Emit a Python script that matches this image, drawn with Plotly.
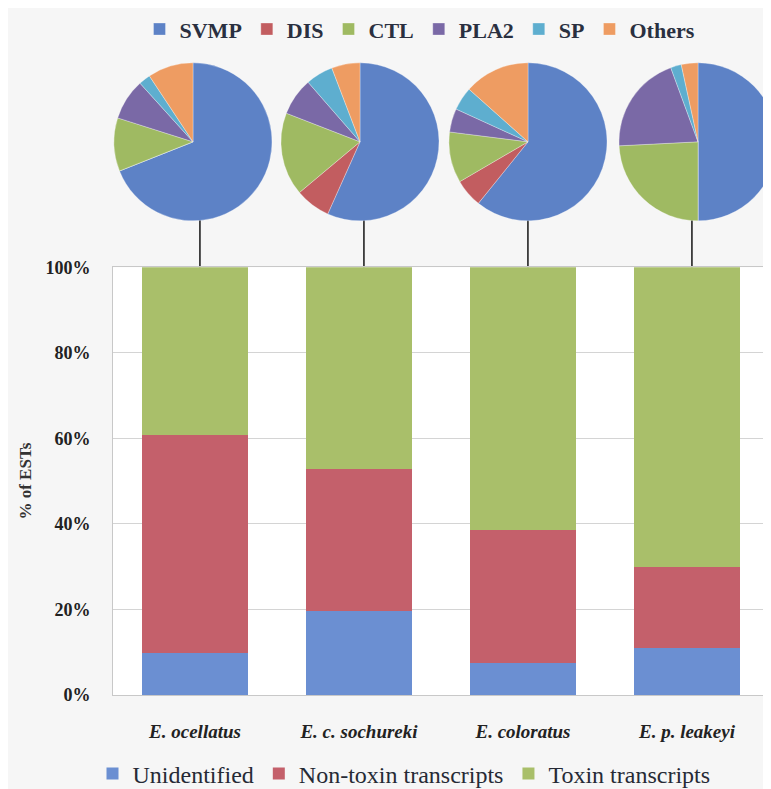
import plotly.graph_objects as go

# ---------------- data ----------------
species = ["E. ocellatus", "E. c. sochureki", "E. coloratus", "E. p. leakeyi"]
species_labels = ["<b><i>E. ocellatus</i></b>", "<b><i>E. c. sochureki</i></b>",
                  "<b><i>E. coloratus</i></b>", "<b><i>E. p. leakeyi</i></b>"]

unidentified = [9.9, 19.6, 7.4, 10.9]
non_toxin = [50.8, 33.3, 31.2, 19.1]
toxin = [39.3, 47.1, 61.4, 70.0]

toxin_families = ["SVMP", "DIS", "CTL", "PLA2", "SP", "Others"]
pie_ocellatus = [69.0, 0.0, 10.9, 8.4, 2.4, 9.3]
pie_sochureki = [56.7, 7.2, 17.0, 7.7, 5.6, 5.8]
pie_coloratus = [60.8, 5.8, 10.4, 4.8, 4.8, 13.4]
pie_leakeyi = [50.0, 0.0, 24.2, 20.2, 2.2, 3.4]
pie_values = [pie_ocellatus, pie_sochureki, pie_coloratus, pie_leakeyi]

y_ticks = [0, 20, 40, 60, 80, 100]
y_ticktext = ["<b>%d%%</b>" % v for v in y_ticks]

# ---------------- styles ----------------
pie_colors = ["#5d82c6", "#c25d60", "#9fba62", "#7a69a6", "#5eaecf", "#ee9c62"]
bar_colors = {"Unidentified": "#6b8fd2", "Non-toxin transcripts": "#c4606b",
              "Toxin transcripts": "#a9bf6a"}
serif = "Liberation Serif, Times New Roman, serif"

# page offset of the figure inside the html body (default body margin)
OFF = 8
W, H = 771, 789
ML, MR, MT, MB = 113 - OFF, 0, 40 - OFF, H - (695 - OFF)
pw, ph = W - ML - MR, H - MT - MB


def fx(px):
    return min(1.0, max(0.0, (px - OFF - ML) / pw))


def fy(py):
    return (H - MB - (py - OFF)) / ph


fig = go.Figure()

for name, vals in [("Unidentified", unidentified),
                   ("Non-toxin transcripts", non_toxin),
                   ("Toxin transcripts", toxin)]:
    fig.add_trace(go.Bar(
        x=species, y=vals, name=name,
        marker=dict(color=bar_colors[name], line=dict(width=0)),
        legend="legend2", hoverinfo="name+y"))

pie_centers = [193, 360, 528, 698]
R = 80
for cx, vals, sp in zip(pie_centers, pie_values, species):
    fig.add_trace(go.Pie(
        labels=toxin_families, values=vals, name=sp,
        sort=False, direction="clockwise", rotation=0,
        marker=dict(colors=pie_colors, line=dict(color="rgba(255,255,255,0.5)", width=0.6)),
        textinfo="none", hoverinfo="label+percent",
        domain=dict(x=[fx(cx - R), fx(cx + R)], y=[fy(215), fy(55)]),
        legend="legend"))

plot_top = fy(262)
for i in range(len(species)):
    fig.add_shape(type="line", xref="x", yref="paper",
                  x0=i + 0.03, x1=i + 0.03, y0=plot_top, y1=fy(214),
                  line=dict(color="#3a3a3a", width=1.8), layer="below")

fig.update_layout(
    width=W, height=H,
    margin=dict(l=ML, r=MR, t=MT, b=MB),
    paper_bgcolor="#f6f6f6",
    plot_bgcolor="#ffffff",
    barmode="stack",
    bargap=0.35,
    font=dict(family=serif, color="#2a2a2a"),
    xaxis=dict(
        domain=[0, fx(769)],
        tickmode="array", tickvals=species, ticktext=species_labels,
        tickfont=dict(size=19, family=serif, color="#222"),
        showgrid=False, ticks="", ticklabelstandoff=19,
        showline=True, linecolor="#c8c8c8", linewidth=1, mirror=True,
        range=[-0.5, 3.5]),
    yaxis=dict(
        domain=[0, plot_top], range=[0, 100],
        tickmode="array", tickvals=y_ticks, ticktext=y_ticktext,
        tickfont=dict(size=18, family=serif, color="#222"),
        showgrid=True, gridcolor="#d4d4d4", gridwidth=1,
        ticks="", ticklabelstandoff=18,
        showline=True, linecolor="#c8c8c8", linewidth=1, mirror=True,
        zeroline=False,
        title=dict(text="<b>% of ESTs</b>", font=dict(size=17, family=serif, color="#333"),
                   standoff=9)),
    legend=dict(
        orientation="h", x=fx(420), xanchor="center", y=fy(21), yanchor="middle",
        font=dict(size=22, family=serif, color="#2a3040", weight="bold"),
        bgcolor="rgba(0,0,0,0)", itemclick=False, traceorder="normal"),
    legend2=dict(
        orientation="h", x=fx(404), xanchor="center", y=fy(775), yanchor="middle",
        font=dict(size=24, family=serif, color="#262a35"),
        bgcolor="rgba(0,0,0,0)", traceorder="normal"),
)

fig.write_html("out.html")
